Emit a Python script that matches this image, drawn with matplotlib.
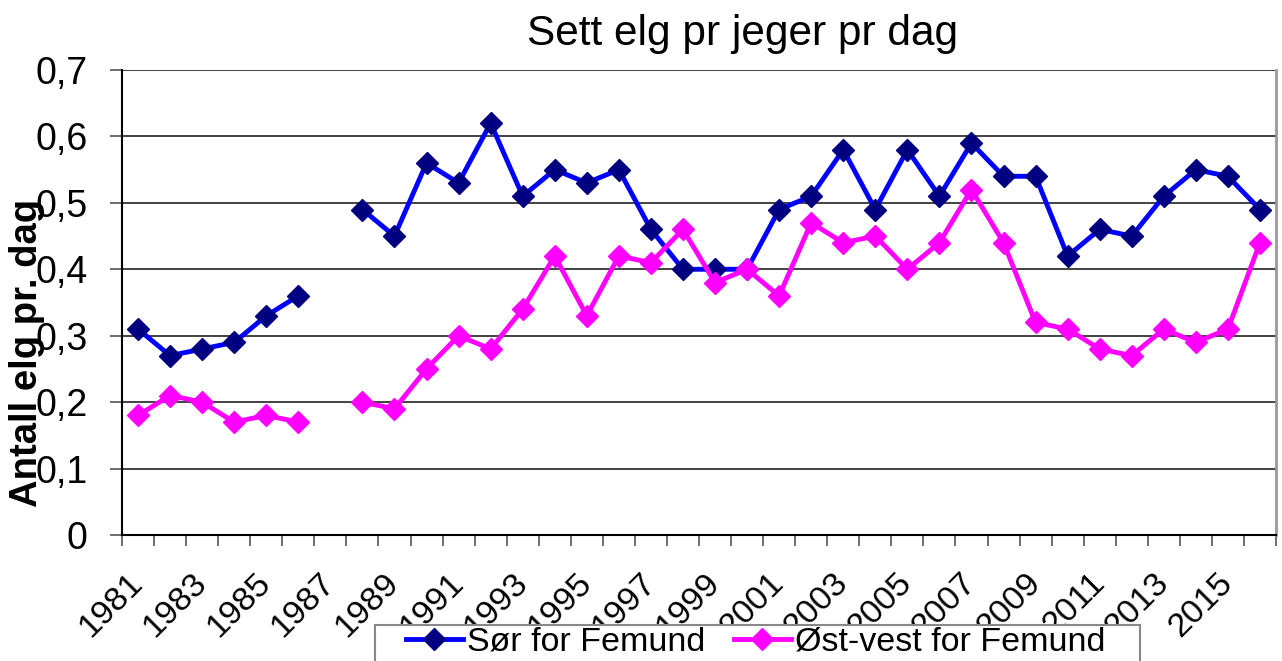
import numpy as np
import matplotlib.pyplot as plt
from matplotlib.patches import Rectangle
from matplotlib.ticker import FuncFormatter

plt.rcParams['font.family'] = ['Liberation Sans', 'DejaVu Sans']

years = list(range(1981, 2017))
sor = [0.31, 0.27, 0.28, 0.29, 0.33, 0.36, np.nan, 0.49, 0.45, 0.56, 0.53, 0.62,
       0.51, 0.55, 0.53, 0.55, 0.46, 0.40, 0.40, 0.40, 0.49, 0.51, 0.58, 0.49,
       0.58, 0.51, 0.59, 0.54, 0.54, 0.42, 0.46, 0.45, 0.51, 0.55, 0.54, 0.49]
ostvest = [0.18, 0.21, 0.20, 0.17, 0.18, 0.17, np.nan, 0.20, 0.19, 0.25, 0.30, 0.28,
           0.34, 0.42, 0.33, 0.42, 0.41, 0.46, 0.38, 0.40, 0.36, 0.47, 0.44, 0.45,
           0.40, 0.44, 0.52, 0.44, 0.32, 0.31, 0.28, 0.27, 0.31, 0.29, 0.31, 0.44]

fig = plt.figure(figsize=(12.82, 6.61), dpi=100)
ax = fig.add_axes([122/1282, 126/661, 1154/1282, 465/661])

x = np.arange(len(years))
ax.plot(x, sor, color='#0000FF', linewidth=3.5, marker='D', markersize=11,
        markerfacecolor='#000080', markeredgecolor='#000080', label='Sør for Femund')
ax.plot(x, ostvest, color='#FF00FF', linewidth=3.5, marker='D', markersize=11,
        markerfacecolor='#FF00FF', markeredgecolor='#FF00FF', label='Øst-vest for Femund')

ax.set_xlim(-0.5, len(years) - 0.5)
ax.set_ylim(0, 0.7)
ax.set_yticks(np.arange(0, 0.71, 0.1))
ax.yaxis.set_major_formatter(FuncFormatter(lambda v, p: '0' if v == 0 else ('%.1f' % v).replace('.', ',')))
ax.grid(axis='y', color='#222222', linewidth=1.2)
ax.set_axisbelow(True)

# category labels on odd years, tick marks between categories
ax.set_xticks(x[::2])
ax.set_xticklabels([str(y) for y in years[::2]], rotation=45, ha='right', va='center',
                   rotation_mode='anchor', fontsize=24.5)
ax.set_xticks(np.arange(-0.5, len(years)), minor=True)
ax.tick_params(axis='x', which='major', length=0, pad=31)
ax.tick_params(axis='x', which='minor', length=8, width=1.2, color='#555555')
ax.tick_params(axis='y', labelsize=27, length=9, width=1.2, pad=16, color='#555555')

ax.spines['top'].set_visible(False)
ax.spines['right'].set_color('#999999')
ax.spines['right'].set_linewidth(2)
ax.spines['left'].set_linewidth(1.5)
ax.spines['bottom'].set_linewidth(1.5)

fig.text(743/1282, 1 - 45/661, 'Sett elg pr jeger pr dag', ha='center', va='baseline', fontsize=30.5)
fig.text(27/1282, 1 - 353/661, 'Antall elg pr. dag', rotation=90, ha='center', va='center',
         fontsize=27.5, fontweight='bold')

# legend box (Excel style, runs off the bottom edge)
fig.patches.append(Rectangle((375/1282, -0.05), 765/1282, 0.05 + 36/661, transform=fig.transFigure,
                             facecolor='white', edgecolor='#888888', linewidth=1.5, zorder=5))
leg = fig.legend(loc='center left', bbox_to_anchor=(406/1282, 1 - 642/661), ncol=2, fontsize=24.5,
                 frameon=False, borderpad=0, borderaxespad=0, handlelength=1.67,
                 handletextpad=0.12, columnspacing=0.85)
leg.set_zorder(6)

fig.savefig('out.png', dpi=100)
